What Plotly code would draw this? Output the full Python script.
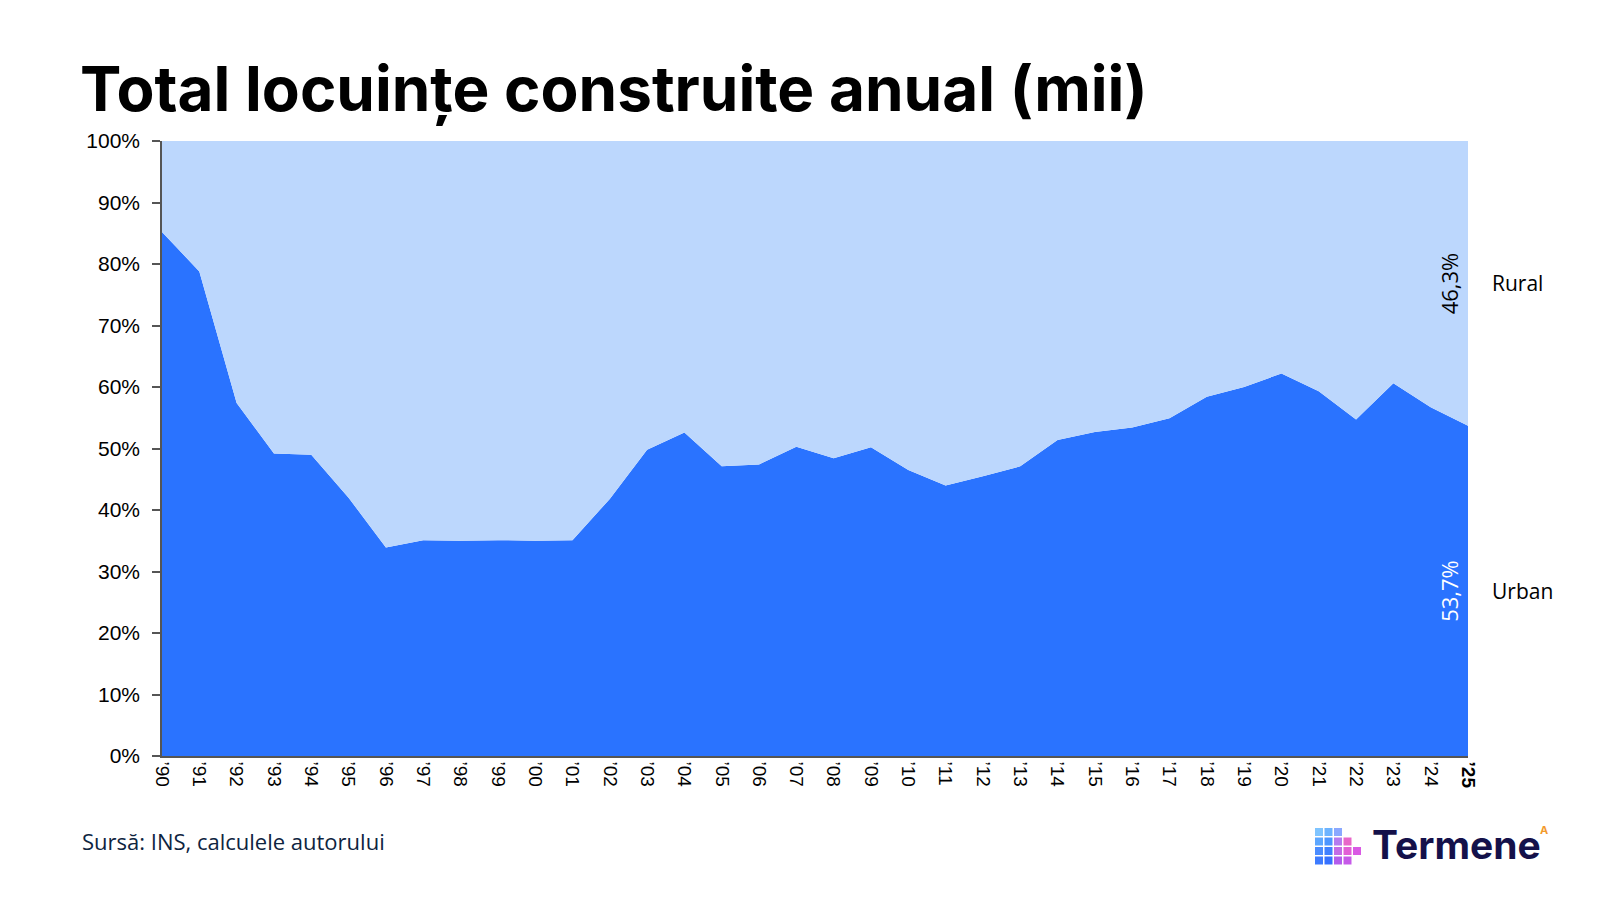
import plotly.graph_objects as go

# ---------------- data ----------------
years = ["’90", "’91", "’92", "’93", "’94", "’95", "’96", "’97", "’98", "’99",
         "’00", "’01", "’02", "’03", "’04", "’05", "’06", "’07", "’08", "’09",
         "’10", "’11", "’12", "’13", "’14", "’15", "’16", "’17", "’18", "’19",
         "’20", "’21", "’22", "’23", "’24", "’25"]

urban = [85.2, 78.8, 57.4, 49.2, 49.0, 42.0, 33.9, 35.1, 35.0, 35.1,
         35.0, 35.1, 41.8, 49.8, 52.6, 47.1, 47.4, 50.3, 48.4, 50.2,
         46.5, 44.0, 45.5, 47.1, 51.4, 52.7, 53.4, 54.9, 58.4, 60.0,
         62.2, 59.3, 54.7, 60.6, 56.7, 53.7]

rural = [14.8, 21.2, 42.6, 50.8, 51.0, 58.0, 66.1, 64.9, 65.0, 64.9,
         65.0, 64.9, 58.2, 50.2, 47.4, 52.9, 52.6, 49.7, 51.6, 49.8,
         53.5, 56.0, 54.5, 52.9, 48.6, 47.3, 46.6, 45.1, 41.6, 40.0,
         37.8, 40.7, 45.3, 39.4, 43.3, 46.3]

series_names = ["Urban", "Rural"]
y_ticks = [0, 10, 20, 30, 40, 50, 60, 70, 80, 90, 100]
y_ticktext = ["0%", "10%", "20%", "30%", "40%", "50%", "60%", "70%", "80%", "90%", "100%"]

title_text = "Total locuințe construite anual (mii)"
source_text = "Sursă: INS, calculele autorului"

URBAN_COLOR = "#2A73FF"
RURAL_COLOR = "#BCD7FD"

# plot area in pixels
L, R, T, B = 154, 1460, 133, 748
W_PLOT = R - L
H_PLOT = B - T

def px_x(p):
    return (p - L) / W_PLOT

def px_y(p):
    return (B - p) / H_PLOT

# ---------------- figure ----------------
xs = list(range(len(years)))
fig = go.Figure()
fig.add_trace(go.Scatter(x=xs, y=urban, name=series_names[0], mode="lines",
                         stackgroup="one", line=dict(width=0, color=URBAN_COLOR),
                         fillcolor=URBAN_COLOR, hoverinfo="skip"))
fig.add_trace(go.Scatter(x=xs, y=rural, name=series_names[1], mode="lines",
                         stackgroup="one", line=dict(width=0, color=RURAL_COLOR),
                         fillcolor=RURAL_COLOR, hoverinfo="skip"))

ticktext = years[:-1] + ["<b>" + years[-1] + "</b>"]

fig.update_layout(
    width=1600, height=900,
    paper_bgcolor="white", plot_bgcolor="white",
    showlegend=False,
    margin=dict(l=L, r=1600 - R, t=T, b=900 - B),
    font=dict(family="Liberation Sans, Arial, sans-serif", color="black"),
    title=dict(text="<b>" + title_text + "</b>",
               font=dict(family="Inter", size=62, color="black", weight=800),
               xref="container", yref="container", x=72 / 1600, xanchor="left",
               y=1 - 81 / 900, yanchor="middle"),
    xaxis=dict(range=[0, len(years) - 1], tickvals=xs, ticktext=ticktext,
               tickangle=90, showgrid=False, zeroline=False,
               showline=True, linecolor="#555555", linewidth=1.5, ticks="",
               tickfont=dict(size=19, color="black"), fixedrange=True),
    yaxis=dict(range=[0, 100], tickvals=y_ticks, ticktext=y_ticktext,
               showgrid=False, zeroline=False, showline=True,
               linecolor="#555555", linewidth=1.5, ticks="outside",
               ticklen=8, tickcolor="#555555", tickwidth=1.5,
               ticklabelstandoff=8,
               tickfont=dict(size=21, color="black"), fixedrange=True),
)

last = len(years) - 1
ann_font = "Open Sans, Inter, sans-serif"
# value labels inside the last column
fig.add_annotation(x=last, y=urban[-1] + rural[-1] / 2,
                   text=f"{rural[-1]:.1f}%".replace(".", ","),
                   textangle=-90, showarrow=False, xanchor="center", yanchor="middle",
                   xshift=-19, font=dict(family=ann_font, size=22, color="black"))
fig.add_annotation(x=last, y=urban[-1] / 2,
                   text=f"{urban[-1]:.1f}%".replace(".", ","),
                   textangle=-90, showarrow=False, xanchor="center", yanchor="middle",
                   xshift=-19, font=dict(family=ann_font, size=22, color="white"))
# series names to the right
fig.add_annotation(x=last, y=urban[-1] + rural[-1] / 2, text=series_names[1],
                   showarrow=False, xanchor="left", yanchor="middle", xshift=22,
                   font=dict(family=ann_font, size=21, color="black"))
fig.add_annotation(x=last, y=urban[-1] / 2, text=series_names[0],
                   showarrow=False, xanchor="left", yanchor="middle", xshift=22,
                   font=dict(family=ann_font, size=21, color="black"))

# source
fig.add_annotation(xref="paper", yref="paper", x=px_x(72), y=px_y(833),
                   text=source_text, showarrow=False, xanchor="left", yanchor="middle",
                   font=dict(family=ann_font, size=22, color="#0E2440"))

# logo text
fig.add_annotation(xref="paper", yref="paper", x=px_x(1362), y=px_y(836),
                   text="<b>Termene</b>", showarrow=False, xanchor="left", yanchor="middle",
                   font=dict(family="Inter", size=39, color="#14114A"))
fig.add_annotation(xref="paper", yref="paper", x=px_x(1530), y=px_y(822),
                   text="<b>A</b>", showarrow=False, xanchor="left", yanchor="middle",
                   font=dict(family="Inter", size=11, color="#F39A2C"))

# logo icon (decorative grid of small squares)
icon_cells = [
    (0, 0, "#7FC4FF"), (1, 0, "#6DB3FF"), (2, 0, "#8AA8FF"),
    (0, 1, "#5CA6FF"), (1, 1, "#4C95FF"), (2, 1, "#B47BEF"), (3, 1, "#E866C9"),
    (0, 2, "#4A8CFF"), (1, 2, "#3F80FF"), (2, 2, "#C36BE6"), (3, 2, "#E25FD6"), (4, 2, "#D95AE4"),
    (0, 3, "#3D7BFF"), (1, 3, "#3571FF"), (2, 3, "#B35CEC"), (3, 3, "#C65AE8"),
]
cell = 8.0
gap = 1.5
x0i, y0i = 1307, 820
for cx, cy, col in icon_cells:
    xa = x0i + cx * (cell + gap)
    ya = y0i + cy * (cell + gap)
    fig.add_shape(type="rect", xref="paper", yref="paper",
                  x0=px_x(xa), x1=px_x(xa + cell), y0=px_y(ya + cell), y1=px_y(ya),
                  fillcolor=col, line=dict(width=0), layer="above")

fig.write_html("out.html")
